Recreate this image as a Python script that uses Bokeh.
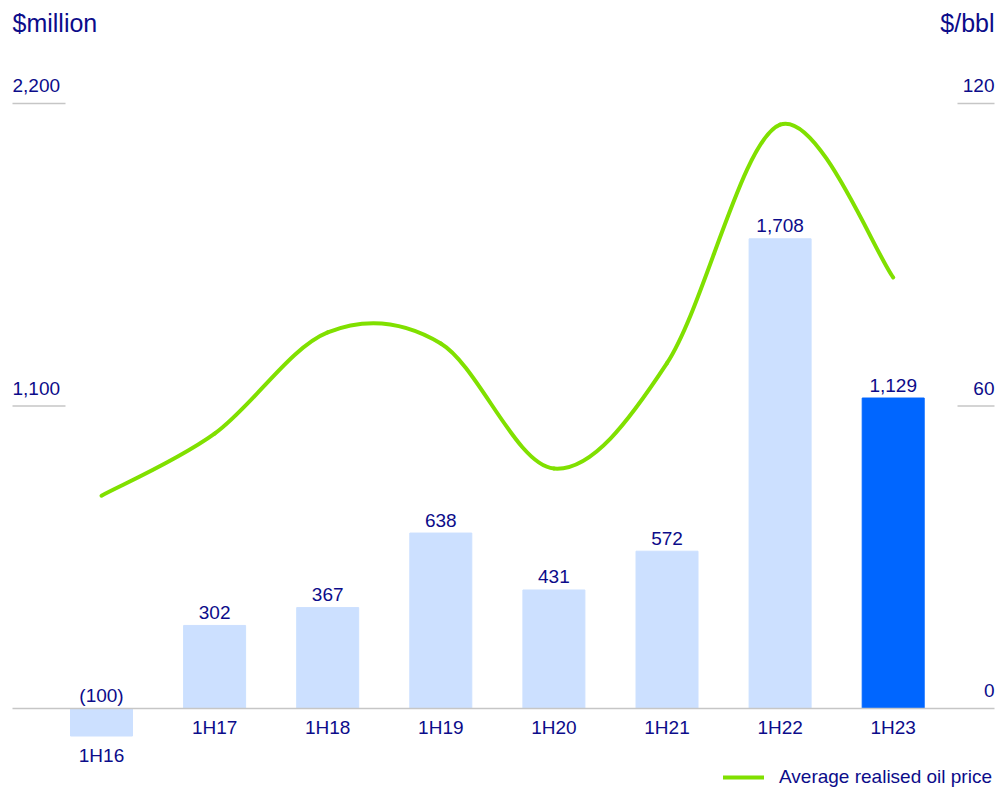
from bokeh.plotting import figure
from bokeh.models import Range1d, Label, Legend, LegendItem, ColumnDataSource
from bokeh.core.properties import value
from bokeh.embed import file_html
from bokeh.resources import INLINE

# ---- data ----
categories = ["1H16", "1H17", "1H18", "1H19", "1H20", "1H21", "1H22", "1H23"]
profit = [-100, 302, 367, 638, 431, 572, 1708, 1129]
oil_price = [42.2, 54.5, 74.6, 72.4, 47.6, 68.5, 115.8, 85.5]
left_ticks = [0, 1100, 2200]
left_tick_labels = ["", "1,100", "2,200"]
right_ticks = [0, 60, 120]
right_tick_labels = ["0", "60", "120"]
left_title = "$million"
right_title = "$/bbl"
legend_label = "Average realised oil price"

# ---- styling / layout ----
W, H = 1000, 788
FONT_NAME = "Liberation Sans"
FONT = value(FONT_NAME)
NAVY = "#0c0c8a"
LIGHT = "#cce0ff"
HIGHLIGHT = "#0066ff"
GREEN = "#80e000"
GREY = "#c6c6c6"

X0_PX, STEP_PX = 101.0, 113.1         # pixel position of first category, spacing
ZERO_PX, PX_PER_UNIT = 708.0, 0.275   # pixel (from top) of zero, px per $million
ratio = 2200.0 / 120.0                # $million per $/bbl on the twin axis

x_start = -X0_PX / STEP_PX
x_end = (W - X0_PX) / STEP_PX
y_top = ZERO_PX / PX_PER_UNIT
y_bot = (ZERO_PX - H) / PX_PER_UNIT

p = figure(width=W, height=H, output_backend="svg", toolbar_location=None,
           x_range=Range1d(x_start, x_end), y_range=Range1d(y_bot, y_top),
           x_axis_location=None, y_axis_location=None, min_border=0)
p.extra_y_ranges = {"oil": Range1d(y_bot / ratio, y_top / ratio)}
p.grid.visible = False
p.outline_line_color = None
p.background_fill_color = "white"

def px_to_x(px):
    return (px - X0_PX) / STEP_PX

idx = list(range(len(categories)))
colors = [LIGHT] * (len(categories) - 1) + [HIGHLIGHT]

# gridline stubs
lx0, lx1 = px_to_x(12), px_to_x(65)
rx0, rx1 = px_to_x(957), px_to_x(994)
for t in left_ticks:
    if t == 0:
        continue
    p.segment(x0=[lx0], y0=[t], x1=[lx1], y1=[t], line_color=GREY, line_width=1.5)
for t in right_ticks:
    if t == 0:
        continue
    p.segment(x0=[rx0], y0=[t], x1=[rx1], y1=[t], line_color=GREY, line_width=1.5,
              y_range_name="oil")

# bars
src = ColumnDataSource(dict(
    x=idx, top=profit, color=colors,
    vlabel=[("(%d)" % abs(v)) if v < 0 else f"{v:,}" for v in profit],
    vy=[max(v, 0) for v in profit],
    cat=categories,
    cy=[min(v, 0) for v in profit],
))
p.vbar(x="x", top="top", bottom=0, width=62 / STEP_PX, color="color", source=src)

# zero line
p.segment(x0=[lx0], y0=[0], x1=[rx1], y1=[0], line_color=GREY, line_width=1.5)

# value labels and category labels
p.text(x="x", y="vy", text="vlabel", source=src, text_font=FONT, text_font_size="19px",
       text_color=NAVY, text_align="center", text_baseline="middle", y_offset=-13)
p.text(x="x", y="cy", text="cat", source=src, text_font=FONT, text_font_size="19px",
       text_color=NAVY, text_align="center", text_baseline="middle", y_offset=19)

# tick labels
lsrc = ColumnDataSource(dict(x=[lx0] * len(left_ticks), y=left_ticks, t=left_tick_labels))
p.text(x="x", y="y", text="t", source=lsrc, text_font=FONT, text_font_size="19px",
       text_color=NAVY, text_align="left", text_baseline="middle", y_offset=-18)
rsrc = ColumnDataSource(dict(x=[rx1] * len(right_ticks), y=right_ticks, t=right_tick_labels))
p.text(x="x", y="y", text="t", source=rsrc, text_font=FONT, text_font_size="19px",
       text_color=NAVY, text_align="right", text_baseline="middle", y_offset=-18,
       y_range_name="oil")

# smooth oil price line (Catmull-Rom converted to cubic Bezier segments)
n = len(oil_price)
ext_x = [idx[0]] + idx + [idx[-1]]
ext_y = [oil_price[0]] + oil_price + [oil_price[-1]]
bx0, by0, bx1, by1, cx0, cy0, cx1, cy1 = ([] for _ in range(8))
for i in range(n - 1):
    pm, p0, p1, p2 = i, i + 1, i + 2, i + 3
    bx0.append(ext_x[p0]); by0.append(ext_y[p0])
    bx1.append(ext_x[p1]); by1.append(ext_y[p1])
    cx0.append(ext_x[p0] + (ext_x[p1] - ext_x[pm]) / 6.0)
    cy0.append(ext_y[p0] + (ext_y[p1] - ext_y[pm]) / 6.0)
    cx1.append(ext_x[p1] - (ext_x[p2] - ext_x[p0]) / 6.0)
    cy1.append(ext_y[p1] - (ext_y[p2] - ext_y[p0]) / 6.0)
curve = p.bezier(x0=bx0, y0=by0, x1=bx1, y1=by1, cx0=cx0, cy0=cy0, cx1=cx1, cy1=cy1,
                 line_color=GREEN, line_width=4, line_cap="round", y_range_name="oil")

# axis titles
p.add_layout(Label(x=12, y=H - 22, x_units="screen", y_units="screen", text=left_title,
                   text_font=FONT_NAME, text_font_size="25px", text_color=NAVY,
                   text_baseline="alphabetic", text_align="left"))
p.add_layout(Label(x=994, y=H - 22, x_units="screen", y_units="screen", text=right_title,
                   text_font=FONT_NAME, text_font_size="25px", text_color=NAVY,
                   text_baseline="alphabetic", text_align="right"))

# legend
legend = Legend(items=[LegendItem(label=legend_label, renderers=[curve])],
                location=(723, 0), orientation="horizontal",
                label_text_font=FONT_NAME, label_text_font_size="19px", label_text_color=NAVY,
                glyph_width=41, glyph_height=20, label_height=20, label_standoff=15,
                padding=0, margin=0, spacing=0,
                border_line_alpha=0, background_fill_alpha=0)
p.add_layout(legend, "center")

open("out.html", "w").write(file_html(p, INLINE))
